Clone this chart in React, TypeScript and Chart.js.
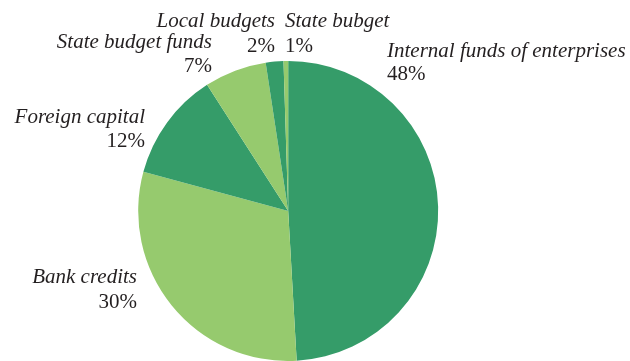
import React, { useEffect, useRef } from "react";
import { Chart, registerables } from "chart.js";

Chart.register(...registerables);

// Data
const categories = [
  "Internal funds of enterprises",
  "Bank credits",
  "Foreign capital",
  "State budget funds",
  "Local budgets",
  "State bubget",
];
const shares = [49.1, 30.1, 11.7, 6.7, 1.9, 0.5];
const percentLabels = ["48%", "30%", "12%", "7%", "2%", "1%"];

const DARK = "#359c69";
const LIGHT = "#96ca6e";
const sliceColors = [DARK, LIGHT, DARK, LIGHT, DARK, LIGHT];

// label layout: [x, baseline1, baseline2, align]
const labelLayout: [number, number, number, CanvasTextAlign][] = [
  [387, 57, 80, "left"],
  [137, 283, 308, "right"],
  [145, 123, 147, "right"],
  [212, 48, 72, "right"],
  [275, 27, 52, "right"],
  [285, 27, 52, "left"],
];

const labelPlugin = {
  id: "pieLabels",
  afterDraw(chart: any) {
    const ctx = chart.ctx as CanvasRenderingContext2D;
    ctx.save();
    ctx.fillStyle = "#231f20";
    ctx.textBaseline = "alphabetic";
    categories.forEach((name, i) => {
      const [x, y1, y2, align] = labelLayout[i];
      ctx.textAlign = align;
      ctx.font = "italic 21px 'Liberation Serif', 'Times New Roman', serif";
      ctx.fillText(name, x, y1);
      ctx.font = "21px 'Liberation Serif', 'Times New Roman', serif";
      ctx.fillText(percentLabels[i], x, y2);
    });
    ctx.restore();
  },
};

export default function App() {
  const ref = useRef<HTMLCanvasElement>(null);
  useEffect(() => {
    document.body.style.margin = "0";
    document.body.style.overflow = "hidden";
    const chart = new Chart(ref.current!, {
      type: "pie",
      data: {
        labels: categories,
        datasets: [
          {
            data: shares,
            backgroundColor: sliceColors,
            borderWidth: 0,
          },
        ],
      },
      options: {
        responsive: false,
        animation: false,
        devicePixelRatio: 1,
        layout: { padding: { top: 61, bottom: 0, left: 0, right: 53.6 } },
        plugins: {
          legend: { display: false },
          tooltip: { enabled: false },
        },
      },
      plugins: [labelPlugin],
    });
    return () => chart.destroy();
  }, []);
  return (
    <div style={{ width: 630, height: 361, background: "#fff" }}>
      <canvas ref={ref} width={630} height={361} />
    </div>
  );
}
